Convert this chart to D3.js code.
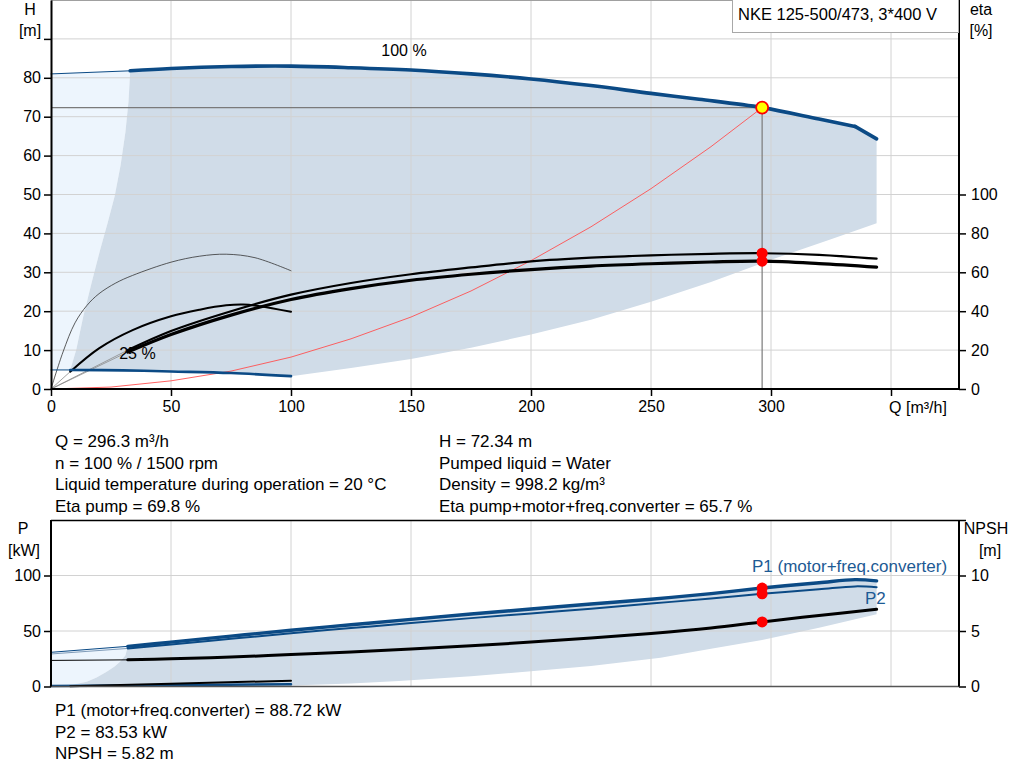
<!DOCTYPE html>
<html>
<head>
<meta charset="utf-8">
<script src="https://cdn.jsdelivr.net/npm/d3@7"></script>
<style>
  body { margin: 0; background: #fff; }
  svg { display: block; font-family: "Liberation Sans", Arial, sans-serif; }
</style>
</head>
<body>
<svg id="chart" width="1024" height="781"></svg>
<script>
// ---- data (Q in m3/h) ----
var qTicks = [0, 50, 100, 150, 200, 250, 300, 350];
var hTicks = [0, 10, 20, 30, 40, 50, 60, 70, 80, 90];
var etaTicks = [0, 20, 40, 60, 80, 100];
var pTicks = [0, 50, 100];
var npshTicks = [0, 5, 10, 15];

// QH curves [Q, H]
var qhThin = [[0, 81.0], [33, 81.8]];
var qh100 = [[33, 81.8], [50, 82.4], [75, 82.9], [100, 83.0], [125, 82.6], [150, 82.0], [175, 81.0],
  [200, 79.7], [225, 78.0], [250, 76.0], [270, 74.5], [296.3, 72.34], [320, 69.4], [335, 67.5], [344, 64.3]];
var qh25Thin = [[0, 4.9], [8, 4.9]];
var qh25 = [[8, 4.9], [30, 4.8], [50, 4.5], [75, 4.1], [100, 3.3]];

// operating range shading (H)
var hShadeBottom = [[344, 42.6], [325, 38.5], [300, 33.2], [275, 27.5], [250, 22.4], [225, 17.8],
  [200, 14.0], [175, 10.6], [150, 7.7], [125, 5.4], [100, 3.3]];
var hShadeLeft = [[8, 4.9], [10.5, 10], [13.4, 18.5], [17, 27.5], [20.4, 35.6], [23.5, 42.5], [26.5, 49.5],
  [29, 57.5], [31, 66], [32.3, 74], [33, 81.8]];

// system curve [Q, H]
var systemCurve = [[0, 0], [25, 0.5], [50, 2.1], [75, 4.6], [100, 8.2], [125, 12.9], [150, 18.5],
  [175, 25.2], [200, 33.0], [225, 41.7], [250, 51.5], [275, 62.3], [296.3, 72.34]];

// eta curves [Q, eta %]
var eta25ThinCurve = [[0, 0], [5, 19], [10, 34], [15, 43], [20, 49], [27, 54.5], [34, 58.4], [50, 65.2],
  [62, 68.3], [73, 69.3], [85, 67.5], [100, 60.8]];
var eta25Curve = [[8, 8.9], [20, 20.9], [34, 30.3], [50, 37.4], [62, 40.8], [73, 43], [80, 43.4],
  [87, 42.6], [100, 39.7]];
var etaPump = [[32, 20], [50, 29.8], [75, 40], [100, 48.5], [125, 54.5], [150, 59], [175, 62.5],
  [200, 65.6], [225, 67.5], [250, 68.7], [275, 69.5], [296.3, 69.8], [320, 69], [344, 67]];
var etaTotal = [[32, 19], [50, 28], [75, 38], [100, 46], [125, 51.6], [150, 55.9], [175, 59],
  [200, 61.4], [225, 63.2], [250, 64.4], [275, 65.3], [296.3, 65.7], [320, 64.5], [344, 62.7]];
var etaLeadIns = [[[0, 0], [32, 20]], [[0, 0], [32, 19]], [[0, 0], [8, 8.9]]];

// power curves [Q, P kW]
var p1Thin = [[0, 30.8], [32, 36.2]];
var p1 = [[32, 36.2], [50, 40], [75, 45.4], [100, 50.7], [125, 55.6], [150, 60.5], [175, 65.3],
  [200, 69.8], [225, 74.3], [250, 78.6], [275, 83.7], [296.3, 88.72], [320, 93.5], [335, 96.3], [344, 95.2]];
var p2Thin = [[0, 29.3], [32, 34.3]];
var p2 = [[32, 34.3], [50, 37.8], [75, 43], [100, 48], [125, 52.6], [150, 57.2], [175, 61.6],
  [200, 65.8], [225, 70], [250, 74.7], [275, 79.3], [296.3, 83.53], [320, 87.6], [335, 90.2], [344, 89.5]];
var pLowBlack = [[8, 0.3], [50, 2.5], [100, 5.2]];
var pLowBlue = [[0, 0.4], [50, 1.1], [100, 2.1]];

// NPSH [Q, m]
var npshThin = [[0, 2.35], [32, 2.4]];
var npsh = [[32, 2.4], [50, 2.5], [75, 2.65], [100, 2.88], [125, 3.1], [150, 3.37], [175, 3.67],
  [200, 4.0], [225, 4.36], [250, 4.78], [275, 5.28], [296.3, 5.82], [320, 6.4], [344, 6.95]];

// power shading
var pShadeBottom = [[344, 65], [320, 53], [296.3, 42], [275, 34], [254, 25.8], [225, 18.5], [200, 13.8],
  [175, 9.2], [145, 5], [125, 2.8], [100, 0.8], [75, 0.2], [50, 0], [3, 0]];
var pShadeLeft = [[3, 0], [9, 1.5], [14.9, 4.3], [19, 8], [23.2, 13.3], [26.5, 18], [28.75, 22.3],
  [31, 28], [32, 36.2]];

// duty point
var opQ = 296.3, opH = 72.34, opEtaPump = 69.8, opEtaTotal = 65.7;
var opP1 = 88.72, opP2 = 83.53, opNpsh = 5.82;

var infoLeft = ["Q = 296.3 m³/h", "n = 100 % / 1500 rpm", "Liquid temperature during operation = 20 °C", "Eta pump = 69.8 %"];
var infoRight = ["H = 72.34 m", "Pumped liquid = Water", "Density = 998.2 kg/m³", "Eta pump+motor+freq.converter = 65.7 %"];
var infoBottom = ["P1 (motor+freq.converter) = 88.72 kW", "P2 = 83.53 kW", "NPSH = 5.82 m"];

// ---- layout ----
var svg = d3.select("#chart");
var left = 51, right = 959;
var blue = "#0b4a85", shade = "#d0dce8", light = "#edf5fd", grid = "#d2d2d2";

var x = d3.scaleLinear().domain([0, 378.33]).range([left, right]);
var yH = d3.scaleLinear().domain([0, 100]).range([389, 0]);
var yEta = d3.scaleLinear().domain([0, 200]).range([389, 0]);
var yP = d3.scaleLinear().domain([0, 150]).range([686.5, 520]);
var yN = d3.scaleLinear().domain([0, 15]).range([686.5, 520]);

function lineFor(ys, curve) {
  return d3.line().x(function(d) { return x(d[0]); }).y(function(d) { return ys(d[1]); })
    .curve(curve || d3.curveCatmullRom);
}
function drawLine(g, data, ys, color, width, curve) {
  return g.append("path").datum(data).attr("d", lineFor(ys, curve))
    .attr("fill", "none").attr("stroke", color).attr("stroke-width", width)
    .attr("stroke-linejoin", "round").attr("stroke-linecap", "round");
}
function drawPoly(g, data, ys, color) {
  g.append("path").datum(data).attr("d", lineFor(ys, d3.curveLinear)(data) + "Z").attr("fill", color);
}
function drawGrid(g, ys, yVals, y0, y1) {
  g.selectAll(null).data(qTicks.slice(1)).enter().append("line")
    .attr("x1", function(d) { return x(d); }).attr("x2", function(d) { return x(d); })
    .attr("y1", y0).attr("y2", y1).attr("stroke", grid).attr("stroke-width", 1);
  g.selectAll(null).data(yVals).enter().append("line")
    .attr("x1", left).attr("x2", right)
    .attr("y1", function(d) { return ys(d); }).attr("y2", function(d) { return ys(d); })
    .attr("stroke", grid).attr("stroke-width", 1);
}
function styleAxis(a) {
  a.select(".domain").attr("stroke", "#000").attr("stroke-width", 2);
  a.selectAll(".tick line").attr("stroke", "#000").attr("stroke-width", 1.5);
  a.selectAll(".tick text").attr("fill", "#000").style("font-size", "16px")
    .style("font-family", "'Liberation Sans', Arial, sans-serif");
}
function label(g, txt, x0, y0, size, anchor, color) {
  return g.append("text").attr("x", x0).attr("y", y0).attr("text-anchor", anchor || "start")
    .attr("fill", color || "#000").style("font-size", size + "px").text(txt);
}

// ================= top chart =================
var topG = svg.append("g");
drawPoly(topG, [[0, 4.9]].concat(hShadeLeft, [[0, 81.0]]), yH, light);
drawPoly(topG, qh100.concat(hShadeBottom, qh25.slice().reverse(), hShadeLeft), yH, shade);
drawGrid(topG, yH, hTicks.slice(1), 0, 389);
topG.append("line").attr("x1", left).attr("x2", right).attr("y1", 0.5).attr("y2", 0.5)
  .attr("stroke", "#a0a0a0");

// duty lines
topG.append("line").attr("x1", left).attr("x2", x(opQ)).attr("y1", yH(opH)).attr("y2", yH(opH))
  .attr("stroke", "#7a7a7a").attr("stroke-width", 1.2);
topG.append("line").attr("x1", x(opQ)).attr("x2", x(opQ)).attr("y1", yH(opH)).attr("y2", yH(0))
  .attr("stroke", "#7a7a7a").attr("stroke-width", 1.2);

drawLine(topG, systemCurve, yH, "#ff5050", 0.9, d3.curveLinear);

etaLeadIns.forEach(function(seg) { drawLine(topG, seg, yEta, "#8a8a8a", 0.8, d3.curveLinear); });
drawLine(topG, eta25ThinCurve, yEta, "#333", 0.8);
drawLine(topG, eta25Curve, yEta, "#000", 2);
drawLine(topG, etaPump, yEta, "#000", 2.2);
drawLine(topG, etaTotal, yEta, "#000", 3.2);

drawLine(topG, qhThin, yH, blue, 1, d3.curveLinear);
drawLine(topG, qh100.slice(0, -1), yH, blue, 3.6);
drawLine(topG, qh100.slice(-2), yH, blue, 3.6, d3.curveLinear);
drawLine(topG, qh25Thin, yH, blue, 1, d3.curveLinear);
drawLine(topG, qh25, yH, blue, 2.6);

label(topG, "100 %", x(150) - 7, yH(85.5), 16, "middle");
label(topG, "25 %", x(36), yH(7.6), 16, "middle");

[opEtaPump, opEtaTotal].forEach(function(e) {
  topG.append("circle").attr("cx", x(opQ)).attr("cy", yEta(e)).attr("r", 5.5).attr("fill", "#ff0000");
});
topG.append("circle").attr("cx", x(opQ)).attr("cy", yH(opH)).attr("r", 6)
  .attr("fill", "#ffff00").attr("stroke", "#ff0000").attr("stroke-width", 1.8);

var axQ = topG.append("g").attr("transform", "translate(0,389)")
  .call(d3.axisBottom(x).tickValues(qTicks).tickSize(7).tickSizeOuter(0).tickPadding(5)
    .tickFormat(function(d) { return d === 350 ? "" : d; }));
styleAxis(axQ);
axQ.select(".domain").attr("d", "M" + left + ",0H" + right);
var axH = topG.append("g").attr("transform", "translate(" + left + ",0)")
  .call(d3.axisLeft(yH).tickValues(hTicks).tickSize(7).tickSizeOuter(0).tickPadding(3)
    .tickFormat(function(d) { return d === 90 ? "" : d; }));
styleAxis(axH);
var axEta = topG.append("g").attr("transform", "translate(" + right + ",0)")
  .call(d3.axisRight(yEta).tickValues(etaTicks).tickSize(7).tickSizeOuter(0).tickPadding(5));
styleAxis(axEta);
axEta.select(".domain").attr("d", "M0,0V389");

label(topG, "Q [m³/h]", 918, 413, 16, "middle");
label(topG, "H", 30, 15, 16, "middle");
label(topG, "[m]", 30, 36, 16, "middle");
label(topG, "eta", 981, 15, 16, "middle");
label(topG, "[%]", 981, 36, 16, "middle");

topG.append("rect").attr("x", 732.5).attr("y", -1).attr("width", 226).attr("height", 33.5)
  .attr("fill", "#fff").attr("stroke", "#a8a8a8").attr("stroke-width", 1);
label(topG, "NKE 125-500/473, 3*400 V", 738, 20, 16.5);

// ================= info text =================
function infoBlock(lines, x0, y0) {
  svg.append("g").selectAll("text").data(lines).enter().append("text")
    .attr("x", x0).attr("y", function(d, i) { return y0 + i * 21.5; })
    .style("font-size", "17px").attr("fill", "#000").text(function(d) { return d; });
}
infoBlock(infoLeft, 55, 447);
infoBlock(infoRight, 439, 447);
infoBlock(infoBottom, 55, 716);

// ================= bottom chart =================
var botG = svg.append("g");
drawPoly(botG, [[0, 0.8]].concat(pShadeLeft, [[32, 36.2], [0, 30.8]]), yP, light);
drawPoly(botG, p1.concat(pShadeBottom, pShadeLeft), yP, shade);
drawGrid(botG, yP, [50, 100], 520, 686.5);
botG.append("line").attr("x1", left).attr("x2", right).attr("y1", 520.5).attr("y2", 520.5)
  .attr("stroke", "#000").attr("stroke-width", 1.5);

drawLine(botG, pLowBlue, yP, blue, 2.5, d3.curveLinear);
drawLine(botG, pLowBlack, yP, "#000", 2, d3.curveLinear);

drawLine(botG, npshThin, yN, "#000", 1, d3.curveLinear);
drawLine(botG, npsh, yN, "#000", 3);
drawLine(botG, p2Thin, yP, "#7f9bb8", 1, d3.curveLinear);
drawLine(botG, p2, yP, blue, 2);
drawLine(botG, p1Thin, yP, blue, 1, d3.curveLinear);
drawLine(botG, p1, yP, blue, 3.4);

[yP(opP1), yP(opP2), yN(opNpsh)].forEach(function(cy) {
  botG.append("circle").attr("cx", x(opQ)).attr("cy", cy).attr("r", 5.5).attr("fill", "#ff0000");
});

label(botG, "P1 (motor+freq.converter)", 752, 572, 17, "start", "#1d5a94");
label(botG, "P2", 865, 604, 17, "start", "#1d5a94");

var axBot = botG.append("g").attr("transform", "translate(0,686.5)")
  .call(d3.axisBottom(x).tickValues([]).tickSizeOuter(0));
axBot.select(".domain").attr("stroke", "#555").attr("stroke-width", 1.5).attr("d", "M" + left + ",0H" + right);
var axP = botG.append("g").attr("transform", "translate(" + left + ",0)")
  .call(d3.axisLeft(yP).tickValues(pTicks).tickSize(7).tickSizeOuter(0).tickPadding(3));
styleAxis(axP);
axP.select(".domain").attr("d", "M0,520V686.5");
var axN = botG.append("g").attr("transform", "translate(" + right + ",0)")
  .call(d3.axisRight(yN).tickValues(npshTicks).tickSize(7).tickSizeOuter(0).tickPadding(5)
    .tickFormat(function(d) { return d === 15 ? "" : d; }));
styleAxis(axN);
axN.select(".domain").attr("d", "M0,520V686.5");

label(botG, "P", 23, 534, 16, "middle");
label(botG, "[kW]", 24, 556, 16, "middle");
label(botG, "NPSH", 986, 534, 16, "middle");
label(botG, "[m]", 990, 556, 16, "middle");
</script>
</body>
</html>
